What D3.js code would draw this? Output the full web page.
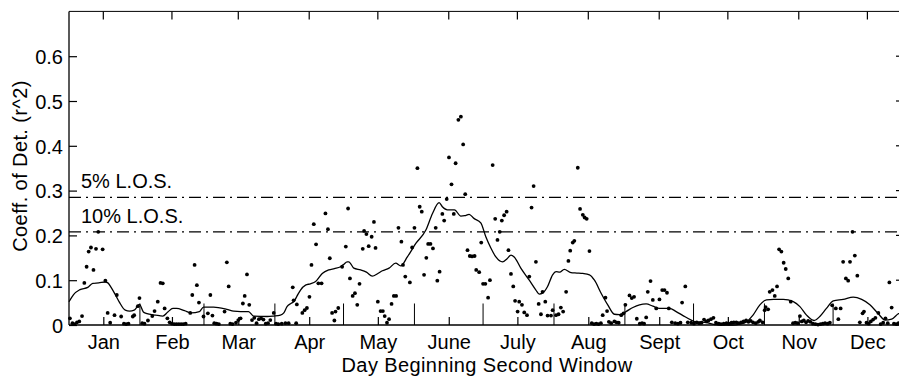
<!DOCTYPE html>
<html>
<head>
<meta charset="utf-8">
<script src="https://cdn.jsdelivr.net/npm/d3@7"></script>
<style>
  html, body { margin: 0; padding: 0; background: #fff; }
  svg { display: block; }
  text { font-family: "Liberation Sans", Arial, Helvetica, sans-serif; fill: #000; }
</style>
</head>
<body>
<svg id="chart" width="899" height="379"></svg>
<script>
// Month labels and the day offsets of their mid-month ticks
const monthNames = ["Jan", "Feb", "Mar", "Apr", "May", "June", "July", "Aug", "Sept", "Oct", "Nov", "Dec"];
const monthMidDays = [15, 45, 74, 105, 135, 166, 196, 227, 258, 288, 319, 349];
// First day of each month (Feb..Dec), marked by short stems
const monthStartDays = [31, 59, 90, 120, 151, 181, 212, 243, 273, 304, 334];
const monthStemValue = 0.048;

const yTicks = [0, 0.1, 0.2, 0.3, 0.4, 0.5, 0.6];

// Significance levels
const losValues = [0.285, 0.208];
const losLabels = ["5% L.O.S.", "10% L.O.S."];

// Daily coefficient of determination (day offset, r^2)
const dotDay = [
  0.4, 1.5, 2.5, 3.5, 4.5, 5.7, 6.7, 7.7, 8.6, 9.6, 10.7, 11.8, 12.8, 14.7, 15.9, 16.9, 18, 19.9, 20.9, 22.8,
  24, 25, 26, 27.9, 28.5, 30.1, 30.8, 32, 33, 34.5, 36.4, 37.4, 38.8, 40, 41, 41.8, 43, 44, 45, 46,
  47, 48, 49, 50, 51, 53, 53.9, 54.9, 55.9, 56.8, 58.8, 60.7, 61.8, 62.7, 63.5, 64.5, 65.5, 68, 69, 69.8,
  70.5, 71.5, 73, 74, 75, 76, 76.8, 77.8, 78.8, 80, 81, 82, 83, 84, 85, 86, 87, 88, 89.5, 90.5,
  91.5, 93, 94.6, 96, 97.8, 98.2, 99.3, 99.6, 102, 103, 104, 105.1, 106, 107, 108, 109, 110.4, 112.1, 113.2, 114,
  115, 116, 116.5, 117.7, 119.4, 121, 122, 122.8, 124, 125, 126, 127, 128.4, 129, 130, 131, 132.3, 133.3, 134, 135,
  136.2, 137.2, 138, 139, 139.9, 141, 142, 143, 144, 145.3, 146, 147, 149, 150, 151, 152.3, 153.3, 154.2, 155.2, 156.2,
  157, 158, 159.1, 160.3, 161, 162, 163.2, 164, 165.1, 166.1, 167.2, 168.2, 169, 170.2, 171.3, 172.3, 173.2, 174.2, 175.2, 176.2,
  177.3, 178, 179.3, 180.2, 181, 182, 183.2, 184, 185.2, 186.3, 187.3, 188.3, 189.2, 190.2, 191.3, 192.1, 193.2, 194.2, 195, 196.1,
  196.8, 198, 199, 200.2, 201.2, 202.2, 203.1, 204.1, 205.3, 206.3, 207, 208.2, 209.2, 210.7, 211.4, 212.9, 214, 215, 216, 217.3,
  218.3, 219.1, 220.2, 220.9, 222.4, 223.4, 224.6, 225.4, 226.3, 227.5, 228.5, 229.5, 230.5, 231.5, 232.5, 233.3, 234.5, 235.2, 236, 237,
  238.4, 239.3, 240.3, 241.4, 242.4, 243.2, 245, 246, 247, 248.2, 249.5, 250.5, 251.4, 252.3, 253, 254.2, 255.2, 256.7, 258.1, 259.3,
  260.3, 261.4, 262.2, 263.5, 265, 266.2, 267.3, 268, 269.4, 270.5, 272, 273.2, 274.4, 275.5, 276.5, 277.6, 278.6, 279.5, 280.6, 281.7,
  282.8, 284, 285, 286.2, 287.4, 288.5, 289.6, 290.6, 291.7, 292.7, 293.8, 294.9, 296, 297, 298, 299, 300.2, 301.3, 302, 303.2,
  304.1, 304.5, 305.6, 306.3, 307.5, 308.5, 309.5, 310.4, 311.4, 312.4, 313.3, 314.4, 315.5, 316.5, 317.5, 318.5, 319.5, 320.3, 321.2, 322.2,
  323.1, 324.1, 325.2, 326.3, 327.4, 328.5, 329.5, 330.5, 331.6, 332.6, 333.6, 335.2, 336.3, 337.3, 338.4, 339.6, 340.6, 341.4, 342.5, 343.5,
  344.6, 345.7, 346.9, 347.5, 348.6, 349.6, 350.5, 351.5, 352.5, 353.8, 354.8, 355.9, 356.9, 357.9, 358.6, 359.6, 360.6, 361.6, 362.6, 363.6,
  364.5
];
const dotR2 = [
  0.015, 0.004, 0.002, 0.006, 0.008, 0.02, 0.094, 0.13, 0.164, 0.173, 0.123, 0.17, 0.208, 0.169, 0.099, 0.027, 0.005, 0.022, 0.067, 0.019,
  0.003, 0.002, 0.003, 0.019, 0.022, 0.042, 0.06, 0.004, 0.003, 0.01, 0.02, 0.031, 0.052, 0.094, 0.093, 0.037, 0.015, 0.006, 0.003, 0.002,
  0.002, 0.002, 0.002, 0.002, 0.003, 0.027, 0.067, 0.134, 0.089, 0.05, 0.019, 0.026, 0.067, 0.021, 0.004, 0.003, 0.002, 0.03, 0.14, 0.086,
  0.003, 0.002, 0.005, 0.011, 0.015, 0.048, 0.065, 0.113, 0.045, 0.011, 0.016, 0.004, 0.013, 0.015, 0.012, 0.003, 0.004, 0.011, 0.027, 0.003,
  0.002, 0.003, 0.004, 0.004, 0.084, 0.055, 0.004, 0.046, 0.027, 0.033, 0.038, 0.063, 0.134, 0.225, 0.18, 0.093, 0.093, 0.249, 0.214, 0.149,
  0.027, 0.01, 0.03, 0.038, 0.13, 0.175, 0.26, 0.104, 0.065, 0.071, 0.045, 0.092, 0.17, 0.21, 0.203, 0.176, 0.197, 0.23, 0.172, 0.052,
  0.031, 0.031, 0.02, 0.005, 0.013, 0.047, 0.065, 0.065, 0.217, 0.186, 0.134, 0.108, 0.095, 0.173, 0.217, 0.35, 0.264, 0.253, 0.112, 0.15,
  0.181, 0.181, 0.171, 0.217, 0.099, 0.119, 0.248, 0.233, 0.281, 0.374, 0.314, 0.248, 0.361, 0.458, 0.465, 0.403, 0.292, 0.167, 0.154, 0.153,
  0.154, 0.123, 0.118, 0.184, 0.092, 0.092, 0.061, 0.1, 0.357, 0.237, 0.19, 0.208, 0.233, 0.245, 0.253, 0.167, 0.114, 0.086, 0.054, 0.03,
  0.052, 0.045, 0.028, 0.022, 0.108, 0.262, 0.31, 0.141, 0.047, 0.024, 0.074, 0.052, 0.021, 0.021, 0.033, 0.022, 0.024, 0.039, 0.03, 0.074,
  0.143, 0.166, 0.184, 0.188, 0.351, 0.259, 0.246, 0.24, 0.237, 0.165, 0.004, 0.002, 0.003, 0.002, 0.004, 0.022, 0.061, 0.031, 0.007, 0.004,
  0.008, 0.006, 0.005, 0.022, 0.026, 0.045, 0.066, 0.06, 0.063, 0.014, 0.003, 0.004, 0.003, 0.017, 0.074, 0.098, 0.056, 0.037, 0.057, 0.078,
  0.078, 0.072, 0.037, 0.006, 0.004, 0.003, 0.005, 0.05, 0.086, 0.006, 0.005, 0.003, 0.006, 0.004, 0.005, 0.012, 0.008, 0.01, 0.013, 0.016,
  0.005, 0.003, 0.002, 0.003, 0.004, 0.003, 0.005, 0.006, 0.006, 0.004, 0.006, 0.008, 0.01, 0.007, 0.009, 0.006, 0.004, 0.007, 0.01, 0.006,
  0.033, 0.04, 0.035, 0.074, 0.078, 0.065, 0.086, 0.169, 0.164, 0.139, 0.125, 0.104, 0.052, 0.004, 0.005, 0.004, 0.02, 0.008, 0.01, 0.006,
  0.009, 0.007, 0.003, 0.002, 0.001, 0.002, 0.003, 0.004, 0.003, 0.005, 0.044, 0.037, 0.013, 0.037, 0.141, 0.104, 0.099, 0.141, 0.208, 0.155,
  0.11, 0.006, 0.026, 0.03, 0.005, 0.003, 0.008, 0.012, 0.016, 0.027, 0.002, 0.005, 0.015, 0.004, 0.095, 0.039, 0.003, 0.002, 0.004, 0.005,
  0.003
];

// Smoothed (running) r^2
const smoothDay = [
  0, 2, 4.8, 8.2, 10.4, 13, 15.9, 17, 18.4, 20, 22, 24.6, 26.5, 28.5, 30, 30.8, 32.5, 33.7, 38, 41,
  43.2, 45.4, 47, 50.5, 53.4, 57, 58.8, 63.2, 69, 72, 75, 78.5, 80.7, 86.6, 89.4, 92.4, 93.9, 95.3, 97, 98.3,
  99.7, 101.2, 103.4, 105.5, 107.8, 110.7, 113.6, 116, 118.7, 120, 121.6, 122.3, 124.5, 127.5, 130, 132.6, 135, 137, 139.9, 142.8,
  145, 147.9, 151.6, 156, 158.9, 161.8, 163.2, 165.4, 168.5, 171.3, 173, 174.9, 177, 180, 182.2, 184.4, 186.6, 189.5, 191.5, 193.2,
  194.6, 197.5, 201.2, 204.1, 205.6, 207, 209.2, 211.4, 212.9, 214.5, 216.5, 219.4, 222, 224.6, 227.5, 229.7, 232.6, 235.5, 238.4, 240.6,
  243.5, 246.5, 249.4, 252.3, 255.2, 258.1, 262.5, 265.4, 268.4, 272, 274.2, 278, 282.2, 285.9, 290.3, 293.2, 296.1, 299, 302, 304.9,
  308, 312.2, 316.6, 319.5, 322.4, 325.7, 328.2, 331.1, 334.1, 338.4, 342.8, 346.5, 350.1, 353.8, 356.7, 359.6, 362.5, 365
];
const smoothR2 = [
  0.052, 0.068, 0.079, 0.084, 0.093, 0.094, 0.096, 0.094, 0.084, 0.07, 0.051, 0.033, 0.031, 0.033, 0.042, 0.046, 0.029, 0.026, 0.022, 0.02,
  0.029, 0.037, 0.037, 0.032, 0.027, 0.03, 0.04, 0.04, 0.035, 0.031, 0.03, 0.03, 0.02, 0.019, 0.02, 0.022, 0.027, 0.041, 0.048, 0.052,
  0.065, 0.078, 0.089, 0.092, 0.097, 0.115, 0.123, 0.126, 0.13, 0.135, 0.141, 0.141, 0.127, 0.123, 0.118, 0.109, 0.115, 0.121, 0.127, 0.138,
  0.132, 0.152, 0.182, 0.212, 0.249, 0.273, 0.264, 0.257, 0.257, 0.243, 0.244, 0.247, 0.238, 0.228, 0.197, 0.172, 0.152, 0.141, 0.148, 0.156,
  0.152, 0.127, 0.1, 0.078, 0.069, 0.071, 0.086, 0.112, 0.119, 0.118, 0.124, 0.117, 0.116, 0.115, 0.112, 0.1, 0.071, 0.045, 0.024, 0.023,
  0.03, 0.039, 0.045, 0.047, 0.042, 0.037, 0.037, 0.03, 0.021, 0.011, 0.007, 0.006, 0.001, 0, 0, 0.002, 0.007, 0.022, 0.045, 0.056,
  0.057, 0.057, 0.052, 0.041, 0.022, 0.01, 0.019, 0.037, 0.054, 0.057, 0.062, 0.057, 0.045, 0.025, 0.011, 0.013, 0.025, 0.03
];

const svg = d3.select("#chart");
const plotLeft = 69, plotRight = 904, plotTop = 11.4, plotBottom = 325;
const fontSize = 20, letterSpacing = 0.4;

const x = d3.scaleLinear().domain([0, 365]).range([plotLeft, plotRight]);
const y = d3.scaleLinear().domain([0, 0.7]).range([plotBottom, plotTop]);

const tickLen = 8;
const g = svg.append("g");

// Frame (box) lines
g.append("line").attr("x1", plotLeft).attr("x2", plotRight).attr("y1", plotTop).attr("y2", plotTop)
  .attr("stroke", "#000").attr("stroke-width", 1);
g.append("line").attr("x1", plotLeft).attr("x2", plotLeft).attr("y1", plotTop).attr("y2", plotBottom)
  .attr("stroke", "#000").attr("stroke-width", 1.3);
g.append("line").attr("x1", plotLeft).attr("x2", plotRight).attr("y1", plotBottom).attr("y2", plotBottom)
  .attr("stroke", "#000").attr("stroke-width", 1.5);
g.append("line").attr("x1", plotRight).attr("x2", plotRight).attr("y1", plotTop).attr("y2", plotBottom)
  .attr("stroke", "#000").attr("stroke-width", 1);

// Left axis with ticks pointing inward
const yAxis = d3.axisLeft(y).tickValues(yTicks).tickSize(-tickLen).tickPadding(6)
  .tickFormat(d => d === 0 ? "0" : d.toFixed(1));
const yAxisG = g.append("g").attr("transform", `translate(${plotLeft},0)`).call(yAxis);
yAxisG.select(".domain").remove();
yAxisG.selectAll("line").attr("stroke", "#000").attr("stroke-width", 1.2);
yAxisG.selectAll("text").attr("font-size", fontSize).attr("dy", "0.36em");

// Right-side mirrored ticks
g.append("g").selectAll("line").data(yTicks).join("line")
  .attr("x1", plotRight).attr("x2", plotRight - tickLen)
  .attr("y1", d => y(d)).attr("y2", d => y(d))
  .attr("stroke", "#000").attr("stroke-width", 1.2);

// Bottom axis: month names at mid-month ticks
const xAxis = d3.axisBottom(x).tickValues(monthMidDays).tickSize(-tickLen).tickPadding(10)
  .tickFormat((d, i) => monthNames[i]);
const xAxisG = g.append("g").attr("transform", `translate(0,${plotBottom})`).call(xAxis);
xAxisG.select(".domain").remove();
xAxisG.selectAll("line").attr("stroke", "#000").attr("stroke-width", 1.2);
xAxisG.selectAll("text").attr("font-size", fontSize).attr("dy", "0.71em");

// Top mirrored ticks
g.append("g").selectAll("line").data(monthMidDays).join("line")
  .attr("x1", d => x(d)).attr("x2", d => x(d))
  .attr("y1", plotTop).attr("y2", plotTop + tickLen)
  .attr("stroke", "#000").attr("stroke-width", 1.2);

// Month boundary stems
g.append("g").selectAll("line").data(monthStartDays).join("line")
  .attr("x1", d => x(d)).attr("x2", d => x(d))
  .attr("y1", y(0)).attr("y2", y(monthStemValue))
  .attr("stroke", "#000").attr("stroke-width", 1);

// Significance level lines (dash-dot) and labels
g.append("g").selectAll("line").data(losValues).join("line")
  .attr("x1", plotLeft).attr("x2", plotRight)
  .attr("y1", d => y(d)).attr("y2", d => y(d))
  .attr("stroke", "#000").attr("stroke-width", 1.3)
  .attr("stroke-dasharray", "12,5,2,5");
g.append("g").selectAll("text").data(losValues).join("text")
  .attr("x", plotLeft + 12).attr("y", d => y(d) - 9)
  .attr("font-size", fontSize)
  .text((d, i) => losLabels[i]);

// Smoothed curve
const smooth = smoothDay.map((d, i) => [d, smoothR2[i]]);
g.append("path")
  .datum(smooth)
  .attr("fill", "none").attr("stroke", "#000").attr("stroke-width", 1.3)
  .attr("d", d3.line().x(d => x(d[0])).y(d => y(d[1])).curve(d3.curveMonotoneX));

// Daily points
const dots = dotDay.map((d, i) => [d, dotR2[i]]);
g.append("g").selectAll("circle").data(dots).join("circle")
  .attr("cx", d => x(d[0])).attr("cy", d => y(d[1]))
  .attr("r", 1.9).attr("fill", "#000");

// Axis titles
svg.append("text")
  .attr("x", 487).attr("y", 372)
  .attr("text-anchor", "middle").attr("font-size", fontSize)
  .attr("letter-spacing", letterSpacing)
  .text("Day Beginning Second Window");
svg.append("text")
  .attr("transform", `translate(27,166) rotate(-90)`)
  .attr("text-anchor", "middle").attr("font-size", fontSize)
  .attr("letter-spacing", letterSpacing)
  .text("Coeff. of Det. (r^2)");
</script>
</body>
</html>
